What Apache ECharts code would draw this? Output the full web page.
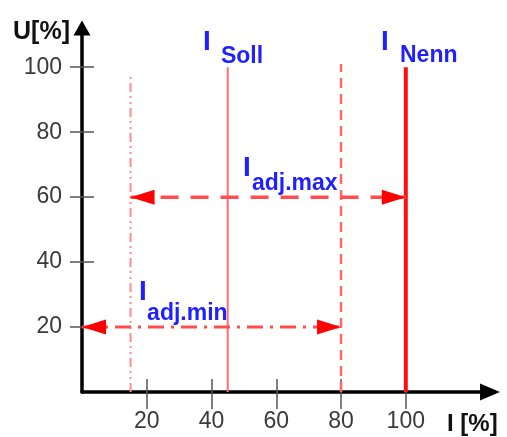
<!DOCTYPE html>
<html><head><meta charset="utf-8">
<script src="https://cdn.jsdelivr.net/npm/echarts@6/dist/echarts.min.js"></script>
<style>html,body{margin:0;padding:0;background:#fff}#c{width:507px;height:437px}</style>
</head><body><div id="c"></div>
<script>
// ---- data ----
const xTicks = [20, 40, 60, 80, 100];
const yTicks = [20, 40, 60, 80, 100];
const X_MAX = 126;
const Y_MAX = 113;
// vertical reference lines [I, U] from U=0 up to the top
const adjMinLine = [[15, 0], [15, 98]];
const sollLine = [[45, 0], [45, 100]];
const adjMaxLine = [[80, 0], [80, 101]];
const nennLine = [[100, 0], [100, 100]];
// horizontal double arrows
const adjMaxRange = [[15, 60], [100, 60]];
const adjMinRange = [[0, 20], [80, 20]];
// annotation anchors (data coords)
const annoMain = ['I', 'I', 'I', 'I'];
const annoSub = ['Soll', 'Nenn', 'adj.max', 'adj.min'];
const annoMainAt = [[37.4, 103.4], [92.3, 103.4], [49.7, 64.6], [17.6, 26.5]];
const annoSubAt = [[42.9, 99.6], [98.2, 99.9], [52.5, 60.6], [20.1, 20.6]];

// ---- chart ----
const FONT = 'Liberation Sans, Arial, Helvetica, sans-serif';
const BLUE = '#1f1fff';
const chart = echarts.init(document.getElementById('c'), null, {renderer: 'canvas'});

function vline(data, color, width, type) {
  return {type: 'line', data: data, symbol: 'none', silent: true,
    lineStyle: {color: color, width: width, type: type, cap: 'butt'}, z: 3};
}
const HEAD_W = 15, HEAD_L = 24;
function arrowHeads(ranges, color) {
  const pts = [];
  ranges.forEach(r => {
    pts.push({value: r[0], symbolRotate: 90, symbolOffset: [HEAD_L / 2, 0]});
    pts.push({value: r[1], symbolRotate: -90, symbolOffset: [-HEAD_L / 2, 0]});
  });
  return {type: 'scatter', data: pts, symbol: 'triangle', symbolSize: [HEAD_W, HEAD_L],
    silent: true, z: 6, itemStyle: {color: color, opacity: 1}};
}
function labels(texts, at, size) {
  return {type: 'line', symbol: 'circle', symbolSize: 0, showSymbol: true, silent: true, z: 10,
    lineStyle: {width: 0, opacity: 0},
    itemStyle: {color: BLUE, opacity: 1},
    data: at.map((p, i) => ({value: p, name: texts[i]})),
    label: {show: true, position: 'inside', align: 'left', verticalAlign: 'bottom', opacity: 1,
      formatter: p => p.name, color: BLUE, fontSize: size, fontWeight: 'bold', fontFamily: FONT}
  };
}

const tickLbl = {fontSize: 23, color: '#3a3a3a', fontFamily: FONT};
const option = {
  animation: false,
  backgroundColor: '#fff',
  textStyle: {fontFamily: FONT},
  grid: {left: 82, right: 17, top: 25, bottom: 45, containLabel: false, outerBoundsMode: 'none'},
  xAxis: [
    {type: 'value', min: 0, max: X_MAX, interval: 20, position: 'bottom',
      splitLine: {show: false},
      axisLine: {show: true, onZero: false, symbol: ['none', 'triangle'], symbolSize: [17, 20],
        lineStyle: {color: '#000', width: 3.5}},
      axisTick: {show: true, length: 17, customValues: xTicks, lineStyle: {color: '#555', width: 1.5}},
      axisLabel: {show: true, margin: 18, customValues: xTicks, ...tickLbl},
      name: 'I [%]', nameLocation: 'end', nameGap: -43,
      nameTextStyle: {fontSize: 24, fontWeight: 'bold', color: '#111', align: 'left', verticalAlign: 'top', padding: [20, 0, 0, 0], fontFamily: FONT}
    },
    {type: 'value', min: 0, max: X_MAX, interval: 20, position: 'bottom', offset: 0,
      splitLine: {show: false}, axisLine: {show: false, onZero: false},
      axisTick: {show: true, inside: true, length: 13, customValues: xTicks, lineStyle: {color: '#555', width: 1.5}},
      axisLabel: {show: false}}
  ],
  yAxis: [
    {type: 'value', min: 0, max: Y_MAX, interval: 20, position: 'left',
      splitLine: {show: false},
      axisLine: {show: true, onZero: false, symbol: ['none', 'triangle'], symbolSize: [17, 15],
        symbolOffset: [0, -3], lineStyle: {color: '#000', width: 3.5}},
      axisTick: {show: true, length: 12, customValues: yTicks, lineStyle: {color: '#555', width: 1.5}},
      axisLabel: {show: true, margin: 20, customValues: yTicks, ...tickLbl},
      name: 'U[%]', nameLocation: 'end', nameGap: -7,
      nameTextStyle: {fontSize: 25, fontWeight: 'bold', color: '#111', align: 'right', verticalAlign: 'middle', padding: [0, 12, 0, 0], fontFamily: FONT}
    },
    {type: 'value', min: 0, max: Y_MAX, interval: 20, position: 'left', offset: 0,
      splitLine: {show: false}, axisLine: {show: false, onZero: false},
      axisTick: {show: true, inside: true, length: 12, customValues: yTicks, lineStyle: {color: '#555', width: 1.5}},
      axisLabel: {show: false}}
  ],
  series: [
    vline(adjMinLine, '#ff8c8c', 2, [9, 4, 2, 4, 2, 4]),
    vline(sollLine, '#ff7070', 2, 'solid'),
    vline(adjMaxLine, '#ff6666', 2.5, [10, 6]),
    vline(nennLine, '#ff1010', 4, 'solid'),
    vline(adjMaxRange, '#ff4d4d', 3.5, [18, 12]),
    vline(adjMinRange, '#ff4d4d', 3, [16, 7, 3, 7]),
    arrowHeads([adjMaxRange, adjMinRange], '#ff0000'),
    labels(annoMain, annoMainAt, 28),
    labels(annoSub, annoSubAt, 23)
  ]
};
chart.setOption(option);
</script></body></html>
